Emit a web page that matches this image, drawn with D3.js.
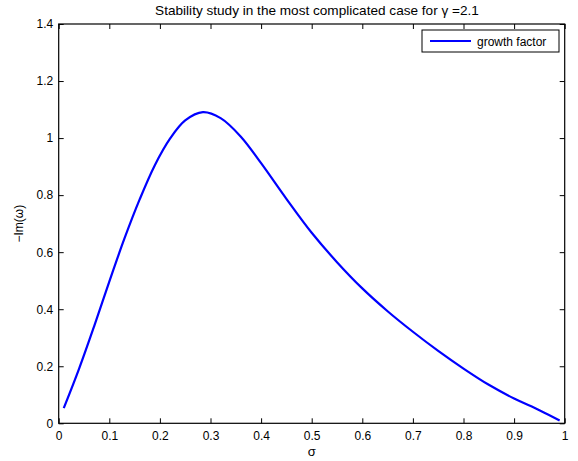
<!DOCTYPE html>
<html>
<head>
<meta charset="utf-8">
<script src="https://cdn.jsdelivr.net/npm/d3@7"></script>
<style>
  body { margin: 0; background: #fff; }
  text { font-family: "Liberation Sans", Arial, Helvetica, sans-serif; }
</style>
</head>
<body>
<script>
let width = 578;
let height = 461;
let plotLeft = 58.7, plotRight = 564.7, plotTop = 24, plotBottom = 423.3;

// sigma and growth factor
var sigma = [0.01, 0.04, 0.07, 0.10, 0.13, 0.16, 0.19, 0.22, 0.25, 0.285, 0.32, 0.36, 0.40,
             0.45, 0.50, 0.55, 0.60, 0.65, 0.70, 0.75, 0.80, 0.85, 0.90, 0.95, 0.99];
var growth = [0.053, 0.19, 0.34, 0.497, 0.648, 0.785, 0.905, 0.998, 1.062, 1.091, 1.07, 1.005, 0.912,
              0.787, 0.668, 0.565, 0.473, 0.393, 0.321, 0.254, 0.192, 0.135, 0.087, 0.046, 0.01];

var xTicks = [0, 0.1, 0.2, 0.3, 0.4, 0.5, 0.6, 0.7, 0.8, 0.9, 1];
var yTicks = [0, 0.2, 0.4, 0.6, 0.8, 1, 1.2, 1.4];

var svg = d3.select('body')
            .append('svg')
            .attr('width', width)
            .attr('height', height);

var x = d3.scaleLinear().domain([0, 1]).range([plotLeft, plotRight]);
var y = d3.scaleLinear().domain([0, 1.4]).range([plotBottom, plotTop]);
var fmt = d3.format('~g');

function styleAxis(g) {
  g.select('.domain').remove();
  g.selectAll('line').attr('stroke', '#000');
  g.selectAll('text').attr('fill', '#000').style('font-size', '12px');
}

svg.append('g').attr('transform', 'translate(0,' + plotBottom + ')')
   .call(d3.axisBottom(x).tickValues(xTicks).tickFormat(fmt).tickSize(-5).tickPadding(8))
   .call(styleAxis);
svg.append('g').attr('transform', 'translate(0,' + plotTop + ')')
   .call(d3.axisTop(x).tickValues(xTicks).tickFormat('').tickSize(-5))
   .call(styleAxis);
svg.append('g').attr('transform', 'translate(' + plotLeft + ',0)')
   .call(d3.axisLeft(y).tickValues(yTicks).tickFormat(fmt).tickSize(-5).tickPadding(5.5))
   .call(styleAxis);
svg.append('g').attr('transform', 'translate(' + plotRight + ',0)')
   .call(d3.axisRight(y).tickValues(yTicks).tickFormat('').tickSize(-5))
   .call(styleAxis);

// axes box
svg.append('rect').attr('x', plotLeft).attr('y', plotTop)
   .attr('width', plotRight - plotLeft).attr('height', plotBottom - plotTop)
   .attr('fill', 'none').attr('stroke', '#000').attr('stroke-width', 1.2);

var line = d3.line()
  .x(function(d, i) { return x(sigma[i]); })
  .y(function(d) { return y(d); })
  .curve(d3.curveCatmullRom.alpha(0.5));

svg.append('path').datum(growth)
   .attr('d', line)
   .attr('fill', 'none').attr('stroke', '#0000ff').attr('stroke-width', 2.2);

// title and labels
svg.append('text').attr('x', 317).attr('y', 15).attr('text-anchor', 'middle')
   .style('font-size', '13.6px').text('Stability study in the most complicated case for γ =2.1');
svg.append('text').attr('x', (plotLeft + plotRight) / 2).attr('y', 456).attr('text-anchor', 'middle')
   .style('font-size', '13px').text('σ');
svg.append('text').attr('transform', 'translate(23,' + ((plotTop + plotBottom) / 2) + ') rotate(-90)')
   .attr('text-anchor', 'middle').style('font-size', '12px').text('−Im(ω)');

// legend
var lg = svg.append('g');
lg.append('rect').attr('x', 422).attr('y', 30).attr('width', 137).attr('height', 22)
  .attr('fill', '#fff').attr('stroke', '#000').attr('stroke-width', 1);
lg.append('line').attr('x1', 430).attr('x2', 471).attr('y1', 41).attr('y2', 41)
  .attr('stroke', '#0000ff').attr('stroke-width', 2.2);
lg.append('text').attr('x', 477).attr('y', 45.5).style('font-size', '12px').text('growth factor');
</script>
</body>
</html>
